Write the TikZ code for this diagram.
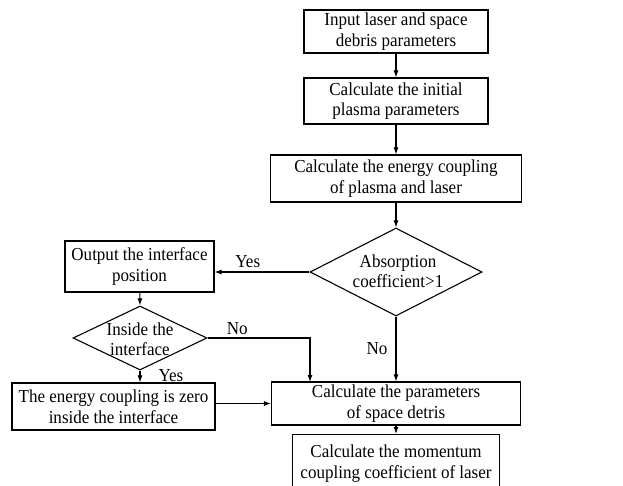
\documentclass[tikz,border=0pt]{standalone}
\usepackage{fontspec}
\setmainfont{Liberation Serif}[FakeStretch=0.93]
\usetikzlibrary{arrows.meta,shapes.geometric}
\begin{document}
\begin{tikzpicture}[x=1pt,y=-1pt,
  font=\fontsize{18.3}{20.5}\selectfont,
  box/.style={draw,line width=1.1pt,inner sep=0pt,align=center},
  dia/.style={draw,line width=1.1pt,diamond,inner sep=0pt},
  txt/.style={inner sep=0pt,align=center},
  arr/.style={line width=1.1pt,-{Latex[length=7pt,width=5pt]}}]
\useasboundingbox[fill=white] (0,0) rectangle (623,486);
\node[box,minimum width=184pt,minimum height=43pt] (b1) at (396,31.5) {Input laser and space\\debris parameters};
\node[box,minimum width=184pt,minimum height=46pt] (b2) at (396,101) {Calculate the initial\\plasma parameters};
\node[box,minimum width=251pt,minimum height=47pt] (b3) at (396,178.5) {Calculate the energy coupling\\of plasma and laser};
\node[dia,minimum width=172pt,minimum height=88pt] (d1) at (396,272) {};
\node[txt] (t1) at (398,271) {Absorption\\coefficient>1};
\node[box,minimum width=149pt,minimum height=51pt] (out) at (139.5,266.5) {Output the interface\\position};
\node[dia,minimum width=134pt,minimum height=64pt] (d2) at (140,338) {};
\node[txt] (t2) at (140,339) {Inside the\\interface};
\node[box,minimum width=203pt,minimum height=47pt] (en) at (113.5,406.5) {The energy coupling is zero\\inside the interface};
\node[box,minimum width=249pt,minimum height=43pt] (pa) at (396,403.5) {Calculate the parameters\\of space detris};
\node[box,minimum width=207pt,minimum height=58pt,anchor=north] (mo) at (396,434) {Calculate the momentum\\coupling coefficient of laser};
\coordinate (j) at (310,382);
\draw[arr] (b1) -- (b2);
\draw[arr] (b2) -- (b3);
\draw[arr] (b3) -- (d1.north);
\draw[arr] (d1.west) -- (out.east |- d1.west) node[txt,pos=0.65,above=4pt] (yes1) {Yes};
\draw[arr] (out) -- (d2.north);
\draw[arr] (d2.east) -| (j) node[txt,pos=0.145,above=3pt] (no1) {No};
\draw[arr] (d1.south) -- (pa.north) node[txt,pos=0.5,left=8pt] (no2) {No};
\draw[arr] (d2.south) -- (en.north -| d2.south) node[txt,pos=0.45,right=18pt] (yes2) {Yes};
\draw[arr] (en.east |- pa.west) -- (pa.west);
\draw[arr] (pa) -- (mo);
\end{tikzpicture}
\end{document}
